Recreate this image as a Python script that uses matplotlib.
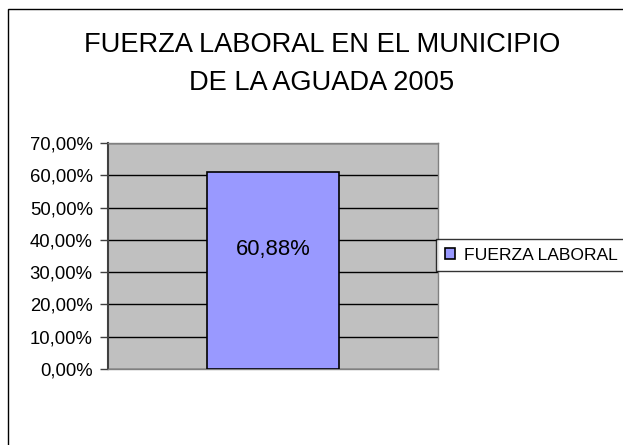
import matplotlib
matplotlib.use("Agg")
import matplotlib.pyplot as plt
from matplotlib.patches import Rectangle

plt.rcParams['font.family'] = ['Liberation Sans', 'DejaVu Sans']

title = "FUERZA LABORAL EN EL MUNICIPIO\nDE LA AGUADA 2005"
series_name = "FUERZA LABORAL"
values = [60.88]
yticks = [0, 10, 20, 30, 40, 50, 60, 70]
ytick_labels = ["0,00%", "10,00%", "20,00%", "30,00%", "40,00%", "50,00%", "60,00%", "70,00%"]

W, H = 623, 445
fig = plt.figure(figsize=(W / 100, H / 100), dpi=100)
fig.patch.set_facecolor("white")

# outer chart border (cut off on right and bottom)
fig.patches.append(Rectangle((8 / W, -0.1), 1.2, 1 - 9 / H + 0.1, transform=fig.transFigure,
                             fill=False, edgecolor="black", linewidth=1.0))

fig.text(322 / W, 1 - 64 / H, title, ha="center", va="center", fontsize=19.6,
         linespacing=1.55)

ax = fig.add_axes([108 / W, 1 - 369 / H, 330 / W, 226 / H])
ax.set_facecolor("#C0C0C0")
ax.set_xlim(-0.5, 0.5)
ax.set_ylim(0, 70)
ax.set_yticks(yticks)
ax.set_yticklabels(ytick_labels, fontsize=13.3)
ax.set_xticks([])
ax.yaxis.grid(True, color="black", linewidth=1.0)
ax.set_axisbelow(True)
for s in ["top", "right", "bottom"]:
    ax.spines[s].set_color("#808080")
    ax.spines[s].set_linewidth(1.0)
ax.spines["left"].set_color("#404040")
ax.spines["left"].set_linewidth(1.5)
ax.tick_params(axis="y", length=6, width=1, color="#404040", pad=5)

bars = ax.bar([0], values, width=0.403, color="#9999FF", edgecolor="black",
              linewidth=1.2, label=series_name, zorder=3)
for b, v in zip(bars, values):
    ax.text(b.get_x() + b.get_width() / 2, 37, ("%.2f%%" % v).replace(".", ","),
            ha="center", va="center", fontsize=15.8, zorder=4)

leg = fig.legend(handles=[bars], labels=[series_name], loc="center left",
                 bbox_to_anchor=(436 / W, 1 - 255 / H), fontsize=12.6,
                 frameon=True, fancybox=False, borderaxespad=0,
                 handlelength=0.6, handleheight=0.6, handletextpad=0.5,
                 borderpad=0.5)
leg.get_frame().set_edgecolor("black")
leg.get_frame().set_linewidth(1.0)

fig.savefig("out.png", dpi=100)
